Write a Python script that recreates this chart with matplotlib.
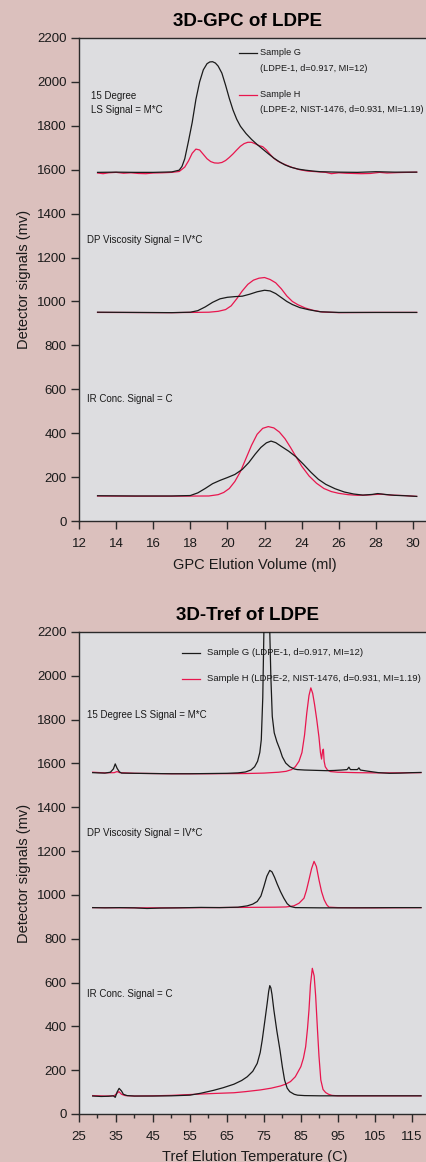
import matplotlib
matplotlib.use("Agg")
import matplotlib.pyplot as plt

plt.rcParams['font.family'] = ['Liberation Sans', 'DejaVu Sans']

# ---------------- 3D-GPC data ----------------
gpc_ls_g_x = [13.0, 14.0, 15.0, 16.0, 17.0, 17.4, 17.55, 17.7, 17.9, 18.1, 18.3, 18.5, 18.7, 18.9, 19.05,
              19.2, 19.35, 19.5, 19.7, 19.9, 20.1, 20.3, 20.5, 20.7, 21.0, 21.3, 21.6, 21.9, 22.2, 22.5,
              22.8, 23.1, 23.4, 23.8, 24.2, 24.6, 25.0, 26.0, 27.0, 28.0, 29.0, 30.2]
gpc_ls_g_y = [1588, 1589, 1588, 1588, 1590, 1598, 1615, 1650, 1730, 1815, 1920, 2000, 2055, 2083, 2091,
              2092, 2086, 2072, 2040, 1985, 1925, 1872, 1830, 1798, 1765, 1738, 1715, 1694, 1673, 1653,
              1636, 1622, 1612, 1603, 1598, 1594, 1591, 1589, 1588, 1591, 1589, 1589]

gpc_ls_h_x = [13.0, 13.3, 13.6, 14.0, 14.4, 14.8, 15.2, 15.6, 16.0, 16.5, 17.0, 17.4, 17.7, 17.9, 18.1,
              18.3, 18.5, 18.7, 18.9, 19.1, 19.3, 19.5, 19.7, 19.9, 20.1, 20.3, 20.5, 20.7, 20.9, 21.1,
              21.3, 21.5, 21.7, 21.9, 22.1, 22.3, 22.5, 22.7, 22.9, 23.2, 23.5, 23.9, 24.3, 24.8, 25.3,
              25.6, 26.0, 26.4, 26.8, 27.2, 27.7, 28.2, 28.6, 29.2, 30.2]
gpc_ls_h_y = [1585, 1582, 1586, 1588, 1584, 1586, 1583, 1582, 1585, 1586, 1588, 1592, 1612, 1640, 1675,
              1694, 1690, 1670, 1650, 1637, 1631, 1630, 1633, 1642, 1656, 1672, 1690, 1707, 1719, 1725,
              1725, 1718, 1710, 1705, 1690, 1670, 1652, 1640, 1631, 1620, 1610, 1600, 1594, 1591, 1588,
              1582, 1586, 1584, 1583, 1582, 1583, 1588, 1585, 1587, 1589]

gpc_dp_g_x = [13.0, 15.0, 17.0, 18.0, 18.4, 18.8, 19.2, 19.6, 20.0, 20.4, 20.8, 21.2, 21.6, 22.0, 22.3,
              22.6, 22.9, 23.2, 23.5, 23.9, 24.4, 25.0, 26.0, 28.0, 30.2]
gpc_dp_g_y = [951, 950, 949, 951, 958, 975, 996, 1012, 1019, 1022, 1024, 1033, 1044, 1051, 1048,
              1036, 1018, 1000, 986, 972, 962, 953, 950, 950, 950]

gpc_dp_h_x = [13.0, 17.0, 19.0, 19.5, 19.9, 20.2, 20.5, 20.8, 21.1, 21.4, 21.7, 22.0, 22.3, 22.6, 22.9,
              23.2, 23.5, 23.8, 24.2, 24.6, 25.1, 26.0, 28.0, 30.2]
gpc_dp_h_y = [950, 949, 951, 955, 963, 980, 1012, 1048, 1078, 1097, 1106, 1109, 1100, 1085, 1058,
              1025, 1000, 985, 970, 960, 952, 949, 950, 950]

gpc_ir_g_x = [13.0, 15.0, 17.0, 18.0, 18.4, 18.8, 19.2, 19.6, 20.0, 20.4, 20.8, 21.15, 21.5, 21.8, 22.1,
              22.35, 22.6, 22.9, 23.3, 23.7, 24.1, 24.5, 24.9, 25.3, 25.8, 26.3, 26.8, 27.3, 27.8, 28.1,
              28.5, 29.0, 29.6, 30.2]
gpc_ir_g_y = [115, 114, 114, 116, 128, 148, 170, 185, 198, 212, 235, 266, 305, 335, 356,
              364, 357, 340, 318, 292, 258, 222, 190, 167, 147, 132, 123, 118, 121, 125,
              121, 117, 115, 112]

gpc_ir_h_x = [13.0, 15.0, 17.0, 19.0, 19.5, 19.8, 20.1, 20.4, 20.7, 21.0, 21.3, 21.6, 21.9, 22.2, 22.5,
              22.8, 23.1, 23.4, 23.7, 24.0, 24.4, 24.8, 25.2, 25.6, 26.0, 26.5, 27.0, 27.5, 28.0, 28.3,
              28.8, 29.5, 30.2]
gpc_ir_h_y = [114, 113, 113, 114, 120, 130, 148, 180, 225, 285, 345, 395, 422, 430, 424,
              405, 375, 335, 292, 250, 205, 172, 148, 134, 126, 120, 117, 118, 121, 122,
              118, 116, 112]

# ---------------- 3D-Tref data ----------------
tref_ls_g_x = [28.7, 30, 32, 33.5, 34.3, 34.8, 35.3, 35.9, 36.5, 40, 45, 50, 55, 60, 65, 68, 70, 71.5,
               72.5, 73.3, 73.9, 74.3, 74.7, 75.0, 75.4, 75.8, 76.2, 76.6, 76.9, 77.27, 77.8, 78.5, 79.35,
               80.0, 80.9, 82.0, 83.2, 84, 86, 88, 90, 92, 94, 96, 97.5, 98.0, 98.4, 100.3, 100.7, 101.1,
               103, 106, 109, 112, 115, 117.5]
tref_ls_g_y = [1558, 1557, 1556, 1560, 1575, 1598, 1578, 1562, 1556, 1555, 1554, 1553, 1553, 1554, 1555,
               1557, 1561, 1570, 1585, 1610, 1650, 1708, 1900, 2200, 2420, 2480, 2420, 2200, 1990, 1815,
               1740, 1700, 1663, 1630, 1602, 1585, 1575, 1572, 1570, 1569, 1568, 1567, 1568, 1570, 1572,
               1583, 1572, 1572, 1580, 1570, 1565, 1558, 1555, 1556, 1558, 1559]

tref_ls_h_x = [28.7, 32, 34.5, 35.3, 36, 40, 50, 60, 70, 75, 79, 81, 82.5, 83.5, 84.5, 85.3, 86.0, 86.6,
               87.2, 87.7, 88.2, 88.7, 89.3, 89.9, 90.3, 90.6, 90.9, 91.1, 91.3, 91.6, 92.2, 93, 95, 100,
               105, 110, 117.5]
tref_ls_h_y = [1560, 1557, 1558, 1563, 1558, 1555, 1553, 1553, 1554, 1556, 1560, 1564, 1572, 1585, 1610,
               1650, 1730, 1830, 1910, 1945, 1920, 1870, 1800, 1720, 1650, 1620, 1660, 1665, 1610, 1585,
               1570, 1563, 1560, 1558, 1557, 1557, 1558]

tref_dp_g_x = [28.7, 32, 36, 40, 43.4, 47, 52, 58, 63, 68, 70.5, 72, 73.2, 74.2, 75.0, 75.8, 76.6, 77.2,
               77.9, 78.6, 79.5, 80.4, 81.3, 82.2, 83.5, 90, 100, 110, 117.5]
tref_dp_g_y = [942, 941, 942, 941, 938, 940, 941, 943, 942, 944, 950, 958, 970, 995, 1038, 1085, 1112, 1105,
               1080, 1050, 1015, 985, 960, 947, 942, 941, 941, 942, 942]

tref_dp_h_x = [28.7, 40, 50, 60, 70, 78, 81, 83.1, 84.5, 85.85, 86.5, 87.2, 87.9, 88.57, 89.2, 89.9, 90.6,
               91.3, 92.0, 92.6, 95, 105, 117.5]
tref_dp_h_y = [942, 941, 941, 942, 943, 944, 945, 950, 962, 985, 1020, 1069, 1120, 1153, 1130, 1069, 1015,
               978, 955, 944, 942, 941, 942]

tref_ir_g_x = [28.7, 31, 33, 34.3, 34.8, 35.3, 35.85, 36.5, 37.0, 38, 40, 45, 50, 55, 58, 61.4, 64, 66.9,
               69, 70.5, 72, 73.2, 74, 74.56, 75.3, 75.9, 76.3, 76.6, 76.9, 77.2, 77.7, 78.5, 79.35, 80.0,
               80.6, 81.3, 82.0, 83.2, 84.1, 86, 90, 100, 110, 117.5]
tref_ir_g_y = [82, 80, 81, 83, 76, 100, 117, 105, 90, 84, 82, 82, 83, 86, 95, 108, 120, 136,
               153, 170, 195, 231, 280, 338, 430, 506, 560, 586, 575, 545, 475, 380, 292, 215,
               155, 118, 102, 90, 86, 84, 83, 83, 83, 83]

tref_ir_h_x = [28.7, 32, 34.5, 35.3, 35.8, 36.5, 37.5, 40, 45, 50, 57.8, 62, 66.9, 70, 74.1, 77, 79.5, 81,
               82.2, 83.5, 85.0, 85.7, 86.3, 86.8, 87.2, 87.6, 88.1, 88.6, 89.0, 89.5, 89.9, 90.4, 91.0,
               91.7, 92.5, 93.4, 95, 100, 110, 117.5]
tref_ir_h_y = [84, 82, 83, 95, 102, 90, 84, 82, 83, 85, 91, 94, 97, 102, 110, 118, 128, 137,
               148, 170, 216, 255, 307, 390, 475, 590, 665, 630, 540, 384, 265, 155, 112,
               98, 90, 85, 83, 83, 83, 83]

yticks = list(range(0, 2201, 200))
gpc_xticks = list(range(12, 31, 2))
tref_xticks = list(range(25, 116, 10))
tref_minor = list(range(30, 121, 10))

labels_gpc = ["Sample G", "(LDPE-1, d=0.917, MI=12)", "Sample H", "(LDPE-2, NIST-1476, d=0.931, MI=1.19)"]
labels_tref = ["Sample G (LDPE-1, d=0.917, MI=12)", "Sample H (LDPE-2, NIST-1476, d=0.931, MI=1.19)"]

# ---------------- styling ----------------
FIG_BG = '#dbc0bd'
AX_BG = '#dddde0'
BLACK = '#1a1a1a'
RED = '#e8164e'
SPINE = '#2a2a2a'
LW = 0.9

fig = plt.figure(figsize=(4.26, 11.62), dpi=100, facecolor=FIG_BG)
W, H = 426.0, 1162.0

def make_axes(top_px, bottom_px):
    left = 79 / W
    ax = fig.add_axes([left, 1 - bottom_px / H, 1.0 - left + 0.01, (bottom_px - top_px) / H])
    ax.set_facecolor(AX_BG)
    for s in ['left', 'bottom', 'top']:
        ax.spines[s].set_color(SPINE)
        ax.spines[s].set_linewidth(1.0)
    ax.spines['right'].set_visible(False)
    ax.set_ylim(0, 2200)
    ax.set_yticks(yticks)
    ax.tick_params(axis='both', which='major', direction='out', length=6, width=1.0,
                   color=SPINE, labelsize=9.5, labelcolor='#1a1a1a', pad=3)
    ax.tick_params(axis='x', which='major', pad=6)
    ax.tick_params(axis='x', which='minor', direction='out', length=3, width=1.0, color=SPINE)
    ax.set_ylabel('Detector signals (mv)', fontsize=10.5, color='#1a1a1a')
    ax.yaxis.set_label_coords(-0.138, 0.5)
    return ax

ann = dict(fontsize=7.0, color='#1a1a1a', ha='left', va='center')
leg = dict(fontsize=6.8, color='#1a1a1a', ha='left', va='center')
leg_top = dict(fontsize=6.6, color='#1a1a1a', ha='left', va='center')

# ---------- GPC panel ----------
ax1 = make_axes(38, 521)
ax1.set_xlim(12, 12 + 347 / 18.33)
ax1.set_xticks(gpc_xticks)
for xs, ys in [(gpc_ls_g_x, gpc_ls_g_y), (gpc_dp_g_x, gpc_dp_g_y), (gpc_ir_g_x, gpc_ir_g_y)]:
    ax1.plot(xs, ys, color=BLACK, lw=LW, zorder=3)
for xs, ys in [(gpc_ls_h_x, gpc_ls_h_y), (gpc_dp_h_x, gpc_dp_h_y), (gpc_ir_h_x, gpc_ir_h_y)]:
    ax1.plot(xs, ys, color=RED, lw=LW, zorder=2)
ax1.set_xlabel('GPC Elution Volume (ml)', fontsize=10.5, color='#1a1a1a', labelpad=6)

ax1.text(12.65, 1905, '15 Degree\nLS Signal = M*C', linespacing=1.45, **ann)
ax1.text(12.44, 1282, 'DP Viscosity Signal = IV*C', **ann)
ax1.text(12.44, 555, 'IR Conc. Signal = C', **ann)

# legend (GPC)
ax1.plot([20.62, 21.6], [2132, 2132], color=BLACK, lw=LW)
ax1.plot([20.62, 21.6], [1941, 1941], color=RED, lw=LW)
ax1.text(21.78, 2132, labels_gpc[0], **leg_top)
ax1.text(21.78, 2059, labels_gpc[1], **leg_top)
ax1.text(21.78, 1941, labels_gpc[2], **leg_top)
ax1.text(21.78, 1873, labels_gpc[3], **leg_top)

fig.text(247 / W, 1 - 21 / H, '3D-GPC of LDPE', ha='center', va='center',
         fontsize=13.5, fontweight='bold', color='black')

# ---------- Tref panel ----------
ax2 = make_axes(632, 1114)
ax2.set_xlim(25, 25 + 347 / 3.686)
ax2.set_xticks(tref_xticks)
ax2.set_xticks(tref_minor, minor=True)
for xs, ys in [(tref_ls_g_x, tref_ls_g_y), (tref_dp_g_x, tref_dp_g_y), (tref_ir_g_x, tref_ir_g_y)]:
    ax2.plot(xs, ys, color=BLACK, lw=LW, zorder=3)
for xs, ys in [(tref_ls_h_x, tref_ls_h_y), (tref_dp_h_x, tref_dp_h_y), (tref_ir_h_x, tref_ir_h_y)]:
    ax2.plot(xs, ys, color=RED, lw=LW, zorder=2)
ax2.set_xlabel('Tref Elution Temperature (C)', fontsize=10.5, color='#1a1a1a', labelpad=5)

ax2.text(27.2, 1823, '15 Degree LS Signal = M*C', **ann)
ax2.text(27.2, 1284, 'DP Viscosity Signal = IV*C', **ann)
ax2.text(27.2, 548, 'IR Conc. Signal = C', **ann)

ax2.plot([52.9, 57.8], [2105, 2105], color=BLACK, lw=LW)
ax2.plot([52.9, 57.8], [1987, 1987], color=RED, lw=LW)
ax2.text(59.5, 2105, labels_tref[0], **leg)
ax2.text(59.5, 1987, labels_tref[1], **leg)

fig.text(247 / W, 1 - 615 / H, '3D-Tref of LDPE', ha='center', va='center',
         fontsize=13.5, fontweight='bold', color='black')

fig.savefig('out.png', dpi=100, facecolor=FIG_BG)
